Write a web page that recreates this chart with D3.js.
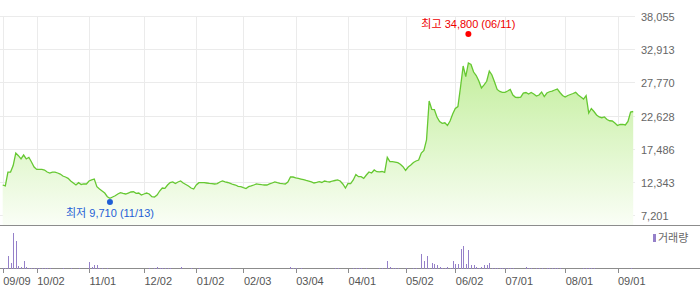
<!DOCTYPE html>
<html>
<head>
<meta charset="utf-8">
<script src="https://d3js.org/d3.v7.min.js"></script>
<style>
  body { margin: 0; background: #fff; }
  text { font-family: "Liberation Sans", Arial, "Noto Sans CJK KR", sans-serif; font-size: 11px; }
</style>
</head>
<body>
<div class="chart"></div>
<script>
// daily closes, one per trading day from 2024-09-09
var closes = [
  11890, 11740, 13900, 13900, 14900, 16840, 16430, 15920, 16530, 15920,
  16180, 15450, 14680, 14300, 14300, 14300, 14210, 13900, 13750, 13900,
  13900, 13750, 13590, 13280, 13130, 12930, 12510, 12200, 11890, 12250,
  11970, 12050, 12050, 12510, 12670, 12820, 11630, 11270, 10960, 10650,
  10080, 9830, 10030, 10230, 10500, 10700, 10580, 10500, 10650, 10810,
  10850, 10610, 10650, 10340, 10500, 10650, 10500, 10080, 10030, 10340,
  10960, 11430, 11380, 11890, 12280, 12360, 12120, 12360, 12510, 12200,
  11970, 11740, 11430, 11270, 11890, 12250, 12250, 12250, 12200, 12150,
  12120, 12050, 12120, 12360, 12510, 12360, 12280, 12150, 11970, 11890,
  11690, 11630, 11470, 11350, 11630, 11740, 11890, 12050, 12000, 11940,
  11890, 11890, 12050, 12200, 12360, 12250, 12150, 12090, 12050, 12360,
  13130, 13130, 13010, 12930, 12820, 12710, 12590, 12480, 12360, 12200,
  12280, 12400, 12280, 12510, 12430, 12360, 12510, 12590, 12670, 12510,
  12050, 11430, 12150, 12120, 12670, 13520, 13180, 13180, 12930, 13440,
  13910, 13750, 14220, 13950, 13910, 13980, 13830, 16180, 15500, 15500,
  15450, 15340, 15100, 14720, 14140, 14680, 14990, 15380, 15610, 15760,
  16840, 17230, 18860, 24900, 23610, 23580, 22420, 21720, 21440, 21530,
  21100, 21800, 22880, 23730, 24040, 27060, 30310, 28660, 30780, 30540,
  29380, 28840, 27990, 26910, 27380, 27950, 29540, 28920, 27840, 26680,
  26370, 26240, 26240, 26440, 26680, 25820, 25470, 25440, 25510, 26130,
  26210, 25980, 26210, 25980, 25670, 25820, 26290, 25590, 26130, 26330,
  26440, 26600, 26750, 26210, 25750, 25510, 25750, 25900, 26060, 26240,
  25820, 25510, 25200, 25720, 23040, 23730, 23270, 22730, 22420, 22310,
  22420, 22030, 21840, 21800, 21490, 21100, 21260, 21260, 21180, 21720,
  23190, 23270
];

// daily volume (relative units)
var volumes = [
  60, 80, 1330, 570, 3630, 2830, 330, 230, 830, 170,
  130, 120, 110, 120, 100, 110, 120, 60, 110, 40,
  40, 40, 40, 100, 40, 40, 100, 40, 40, 100,
  40, 40, 40, 730, 230, 430, 370, 130, 130, 40,
  100, 40, 40, 40, 40, 40, 40, 40, 40, 40,
  40, 40, 40, 40, 40, 40, 100, 40, 100, 200,
  100, 100, 100, 100, 100, 40, 40, 40, 200, 40,
  40, 40, 100, 40, 40, 100, 40, 40, 40, 40,
  40, 40, 40, 40, 40, 40, 40, 100, 40, 40,
  40, 40, 40, 40, 40, 40, 40, 40, 40, 40,
  40, 40, 40, 40, 40, 40, 40, 40, 40, 40,
  200, 100, 100, 40, 100, 40, 40, 40, 40, 40,
  40, 40, 40, 40, 40, 40, 40, 100, 100, 40,
  40, 40, 40, 40, 100, 100, 100, 100, 40, 100,
  40, 40, 40, 40, 100, 100, 40, 830, 200, 100,
  100, 100, 40, 40, 100, 40, 40, 100, 100, 40,
  1500, 830, 1300, 150, 630, 470, 370, 200, 100, 100,
  200, 100, 830, 470, 470, 2000, 2330, 470, 1900, 370,
  370, 200, 100, 200, 370, 370, 570, 100, 100, 100,
  100, 100, 100, 100, 100, 100, 40, 40, 40, 40,
  200, 100, 100, 40, 100, 100, 100, 40, 100, 100,
  100, 100, 100, 100, 40, 40, 40, 40, 40, 40,
  40, 40, 100, 100, 100, 100, 100, 40, 40, 40,
  40, 40, 40, 40, 40, 40, 40, 40, 40, 40,
  100, 40
];

var xTickLabels = ["09/09", "10/02", "11/01", "12/02", "01/02", "02/03", "03/04",
                   "04/01", "05/02", "06/02", "07/01", "08/01", "09/01"];
var xTickIndex = [0, 13, 33, 54, 74, 92, 112, 132, 154, 173, 192, 215, 235];

var yTicks = [7201, 12343, 17486, 22628, 27770, 32913, 38055];

var high = { value: 34800, index: 178, label: "최고 34,800 (06/11)" };
var low = { value: 9710, index: 41, label: "최저 9,710 (11/13)" };

var svgWidth = 700;
var svgHeight = 289;
var plotRight = 635;
var priceBottom = 225.5;
var volBottom = 268.5;

var svg = d3.select(".chart")
  .append("svg")
  .attr("width", svgWidth)
  .attr("height", svgHeight);

var x = d3.scaleLinear().domain([0, closes.length - 1]).range([2.7, 633.2]);
var y = d3.scaleLinear().domain([7201, 38055]).range([215.3, 16]);
var yVol = d3.scaleLinear().domain([0, 4000]).range([volBottom, volBottom - 40]);

// gradient for the area fill
var grad = svg.append("defs").append("linearGradient")
  .attr("id", "fillGrad")
  .attr("gradientUnits", "userSpaceOnUse")
  .attr("x1", 0).attr("y1", 60)
  .attr("x2", 0).attr("y2", priceBottom);
grad.append("stop").attr("offset", "0%").attr("stop-color", "#c2ee9b");
grad.append("stop").attr("offset", "100%").attr("stop-color", "#fafef6");

// grid
var grid = svg.append("g").attr("shape-rendering", "crispEdges");
grid.selectAll(".hgrid")
  .data(yTicks)
  .enter().append("line")
    .attr("x1", 0).attr("x2", plotRight)
    .attr("y1", function(d) { return Math.round(y(d)) + 0.5; })
    .attr("y2", function(d) { return Math.round(y(d)) + 0.5; })
    .attr("stroke", "#ebebeb");
grid.selectAll(".vgrid")
  .data(xTickIndex)
  .enter().append("line")
    .attr("x1", function(d) { return Math.round(x(d)) + 0.5; })
    .attr("x2", function(d) { return Math.round(x(d)) + 0.5; })
    .attr("y1", 16).attr("y2", priceBottom)
    .attr("stroke", "#ebebeb");

// price area + line
var area = d3.area()
  .x(function(d, i) { return x(i); })
  .y0(priceBottom)
  .y1(function(d) { return y(d); });

var line = d3.line()
  .x(function(d, i) { return x(i); })
  .y(function(d) { return y(d); });

svg.append("path")
  .datum(closes)
  .attr("d", area)
  .attr("fill", "url(#fillGrad)");

svg.append("path")
  .datum(closes)
  .attr("d", line)
  .attr("fill", "none")
  .attr("stroke", "#66c832")
  .attr("stroke-width", 1.3);

// right price labels
svg.selectAll(".ylab")
  .data(yTicks)
  .enter().append("text")
    .attr("x", 641)
    .attr("y", function(d) { return y(d) + 5; })
    .attr("fill", "#666")
    .text(function(d) { return d3.format(",")(d); });

// axis lines
svg.append("line")
  .attr("x1", 0).attr("x2", svgWidth)
  .attr("y1", priceBottom).attr("y2", priceBottom)
  .attr("stroke", "#8c8c8c")
  .attr("shape-rendering", "crispEdges");
svg.append("line")
  .attr("x1", 0).attr("x2", svgWidth)
  .attr("y1", volBottom).attr("y2", volBottom)
  .attr("stroke", "#8c8c8c")
  .attr("shape-rendering", "crispEdges");

// volume bars
svg.append("g")
  .attr("shape-rendering", "crispEdges")
  .selectAll("rect")
  .data(volumes)
  .enter().append("rect")
    .attr("x", function(d, i) { return Math.round(x(i)); })
    .attr("width", 1)
    .attr("y", function(d) { return volBottom - Math.round(volBottom - yVol(d)); })
    .attr("height", function(d) { return Math.round(volBottom - yVol(d)); })
    .attr("fill", "#9580c9");

// x ticks and labels
svg.selectAll(".xtick")
  .data(xTickIndex)
  .enter().append("line")
    .attr("x1", function(d) { return Math.round(x(d)) + 0.5; })
    .attr("x2", function(d) { return Math.round(x(d)) + 0.5; })
    .attr("y1", volBottom).attr("y2", volBottom + 4)
    .attr("stroke", "#8c8c8c")
    .attr("shape-rendering", "crispEdges");

svg.selectAll(".xlab")
  .data(xTickIndex)
  .enter().append("text")
    .attr("x", function(d) { return x(d) + 0.5; })
    .attr("y", 284.5)
    .attr("fill", "#555")
    .text(function(d, i) { return xTickLabels[i]; });

// legend
svg.append("rect")
  .attr("x", 653).attr("y", 234)
  .attr("width", 3).attr("height", 8)
  .attr("fill", "#9580c9");
svg.append("text")
  .attr("x", 658).attr("y", 242)
  .attr("fill", "#666")
  .text("거래량");

// high / low markers
var hx = x(high.index), hy = y(high.value) - 3;
svg.append("circle").attr("cx", hx).attr("cy", hy).attr("r", 3).attr("fill", "#f00");
svg.append("text")
  .attr("x", hx).attr("y", hy - 6.5)
  .attr("text-anchor", "middle")
  .attr("fill", "#e00")
  .text(high.label);

var lx = x(low.index), ly = y(low.value) + 3;
svg.append("circle").attr("cx", lx).attr("cy", ly).attr("r", 3).attr("fill", "#1f5fd6");
svg.append("text")
  .attr("x", lx).attr("y", ly + 14.5)
  .attr("text-anchor", "middle")
  .attr("fill", "#1f5fd6")
  .text(low.label);
</script>
</body>
</html>
